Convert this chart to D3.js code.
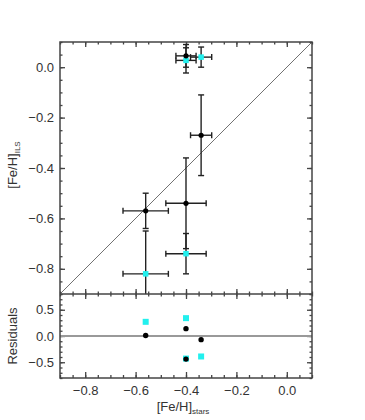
<!DOCTYPE html>
<html>
<head>
<meta charset="utf-8">
<script src="https://cdn.jsdelivr.net/npm/d3@7"></script>
<style>
  html, body { margin: 0; padding: 0; background: #fff; }
  svg { display: block; font-family: "Liberation Sans", Arial, sans-serif; }
  .tick text { fill: #333; font-size: 13px; }
  .tick line { stroke: #444; stroke-width: 1.3; }
</style>
</head>
<body>
<div id="chart"></div>
<script>
// [Fe/H] from stars vs integrated light (black = one method, cyan = the other)
const blackX    = [-0.56, -0.40, -0.34, -0.40];
const blackY    = [-0.57, -0.54, -0.27, 0.045];
const blackXErr = [0.09, 0.08, 0.042, 0.04];
const blackYErr = [0.07, 0.18, 0.16, 0.045];

const cyanX    = [-0.56, -0.40, -0.34, -0.40];
const cyanY    = [-0.82, -0.74, 0.04, 0.027];
const cyanXErr = [0.09, 0.08, 0.042, 0.04];
const cyanYErr = [0.17, 0.08, 0.04, 0.05];

// residuals
const blackRes = [0.01, 0.14, -0.07, -0.44];
const cyanRes  = [0.27, 0.34, -0.39, -0.43];

// tick values
const xMajor = [-0.8, -0.6, -0.4, -0.2, 0.0];
const yMajor = [0.0, -0.2, -0.4, -0.6, -0.8];
const resMajor = [0.5, 0.0, -0.5];

const width = 365, height = 420;
const pL = 60, pR = 312, pT = 42, pMid = 294, pB = 378;

const svg = d3.select("#chart").append("svg")
    .attr("width", width)
    .attr("height", height);

const x = d3.scaleLinear().domain([-0.9, 0.1]).range([pL, pR]);
const y = d3.scaleLinear().domain([-0.9, 0.1]).range([pMid, pT]);
const yRes = d3.scaleLinear().domain([-0.8, 0.8]).range([pB, pMid]);

const fmt = d3.format(".1f");
const minorX = d3.range(-0.9, 0.1001, 0.05).map(v => +v.toFixed(2));
const minorY = d3.range(-0.9, 0.1001, 0.05).map(v => +v.toFixed(2));
const minorRes = d3.range(-0.8, 0.8001, 0.1).map(v => +v.toFixed(2));

// helper: draw an axis with inward ticks
function addAxis(axisFn, scale, pos, values, size, labels, padding) {
    const ax = axisFn(scale).tickValues(values).tickSizeOuter(0)
        .tickSizeInner(-size).tickPadding(padding || 6)
        .tickFormat(labels ? fmt : "");
    const g = svg.append("g").attr("transform", pos).call(ax);
    g.select(".domain").remove();
    return g;
}

// main panel ticks
addAxis(d3.axisLeft, y, `translate(${pL},0)`, yMajor, 5, true, 6);
addAxis(d3.axisLeft, y, `translate(${pL},0)`, minorY, 2.5, false);
addAxis(d3.axisRight, y, `translate(${pR},0)`, yMajor, 5, false);
addAxis(d3.axisRight, y, `translate(${pR},0)`, minorY, 2.5, false);
addAxis(d3.axisTop, x, `translate(0,${pT})`, xMajor, 5, false);
addAxis(d3.axisTop, x, `translate(0,${pT})`, minorX, 2.5, false);
addAxis(d3.axisBottom, x, `translate(0,${pMid})`, xMajor, 5, false);
addAxis(d3.axisBottom, x, `translate(0,${pMid})`, minorX, 2.5, false);

// residual panel ticks
addAxis(d3.axisTop, x, `translate(0,${pMid})`, xMajor, 5, false);
addAxis(d3.axisTop, x, `translate(0,${pMid})`, minorX, 2.5, false);
addAxis(d3.axisBottom, x, `translate(0,${pB})`, xMajor, 6, true, 8);
addAxis(d3.axisBottom, x, `translate(0,${pB})`, minorX, 3, false);
addAxis(d3.axisLeft, yRes, `translate(${pL},0)`, resMajor, 5, true, 6);
addAxis(d3.axisLeft, yRes, `translate(${pL},0)`, minorRes, 2.5, false);
addAxis(d3.axisRight, yRes, `translate(${pR},0)`, resMajor, 5, false);
addAxis(d3.axisRight, yRes, `translate(${pR},0)`, minorRes, 2.5, false);

// clip for the main panel
svg.append("clipPath").attr("id", "mainClip")
  .append("rect").attr("x", pL).attr("y", pT)
  .attr("width", pR - pL).attr("height", pMid - pT);

const main = svg.append("g").attr("clip-path", "url(#mainClip)");

// one-to-one line
main.append("line")
    .attr("x1", x(-0.9)).attr("y1", y(-0.9))
    .attr("x2", x(0.1)).attr("y2", y(0.1))
    .attr("stroke", "#111").attr("stroke-width", 0.6);

// error bars
function errorBars(xs, ys, xe, ye) {
    const cap = 3;
    const g = main.append("g").attr("stroke", "#222").attr("stroke-width", 1.4);
    xs.forEach((xv, i) => {
        const yv = ys[i];
        // horizontal
        g.append("line").attr("x1", x(xv - xe[i])).attr("x2", x(xv + xe[i]))
            .attr("y1", y(yv)).attr("y2", y(yv));
        g.append("line").attr("x1", x(xv - xe[i])).attr("x2", x(xv - xe[i]))
            .attr("y1", y(yv) - cap).attr("y2", y(yv) + cap);
        g.append("line").attr("x1", x(xv + xe[i])).attr("x2", x(xv + xe[i]))
            .attr("y1", y(yv) - cap).attr("y2", y(yv) + cap);
        // vertical
        g.append("line").attr("x1", x(xv)).attr("x2", x(xv))
            .attr("y1", y(yv - ye[i])).attr("y2", y(yv + ye[i]));
        g.append("line").attr("x1", x(xv) - cap).attr("x2", x(xv) + cap)
            .attr("y1", y(yv - ye[i])).attr("y2", y(yv - ye[i]));
        g.append("line").attr("x1", x(xv) - cap).attr("x2", x(xv) + cap)
            .attr("y1", y(yv + ye[i])).attr("y2", y(yv + ye[i]));
    });
}
errorBars(cyanX, cyanY, cyanXErr, cyanYErr);
errorBars(blackX, blackY, blackXErr, blackYErr);

const cyan = "#22f0ee";
const sq = 5.5;

main.selectAll("rect.cyan").data(cyanX).enter().append("rect")
    .attr("x", (d, i) => x(d) - sq / 2)
    .attr("y", (d, i) => y(cyanY[i]) - sq / 2)
    .attr("width", sq).attr("height", sq)
    .attr("fill", cyan);

main.selectAll("circle.black").data(blackX).enter().append("circle")
    .attr("cx", d => x(d))
    .attr("cy", (d, i) => y(blackY[i]))
    .attr("r", 2.6)
    .attr("fill", "#000");

// residual panel
svg.append("line")
    .attr("x1", pL).attr("x2", pR)
    .attr("y1", yRes(0)).attr("y2", yRes(0))
    .attr("stroke", "#999").attr("stroke-width", 2);

svg.selectAll("rect.cyanRes").data(cyanX).enter().append("rect")
    .attr("x", d => x(d) - 3)
    .attr("y", (d, i) => yRes(cyanRes[i]) - 3)
    .attr("width", 6).attr("height", 6)
    .attr("fill", cyan);

svg.selectAll("circle.blackRes").data(blackX).enter().append("circle")
    .attr("cx", d => x(d))
    .attr("cy", (d, i) => yRes(blackRes[i]))
    .attr("r", 2.7)
    .attr("fill", "#000");

// frames
svg.append("rect").attr("x", pL).attr("y", pT)
    .attr("width", pR - pL).attr("height", pB - pT)
    .attr("fill", "none").attr("stroke", "#444").attr("stroke-width", 1.5);
svg.append("line").attr("x1", pL).attr("x2", pR)
    .attr("y1", pMid).attr("y2", pMid)
    .attr("stroke", "#444").attr("stroke-width", 1.5);

// titles
const yt = svg.append("text")
    .attr("transform", `translate(17,${(pT + pMid) / 2 - 3}) rotate(-90)`)
    .attr("text-anchor", "middle")
    .attr("fill", "#333").attr("font-size", 13);
yt.append("tspan").text("[Fe/H]");
yt.append("tspan").attr("font-size", 8).attr("dy", 3).text("ILS");

svg.append("text")
    .attr("transform", `translate(17,${(pMid + pB) / 2}) rotate(-90)`)
    .attr("text-anchor", "middle")
    .attr("fill", "#333").attr("font-size", 13)
    .text("Residuals");

const xt = svg.append("text")
    .attr("x", (pL + pR) / 2 - 3).attr("y", 411)
    .attr("text-anchor", "middle")
    .attr("fill", "#333").attr("font-size", 13);
xt.append("tspan").text("[Fe/H]");
xt.append("tspan").attr("font-size", 8).attr("dy", 3).text("stars");
</script>
</body>
</html>
